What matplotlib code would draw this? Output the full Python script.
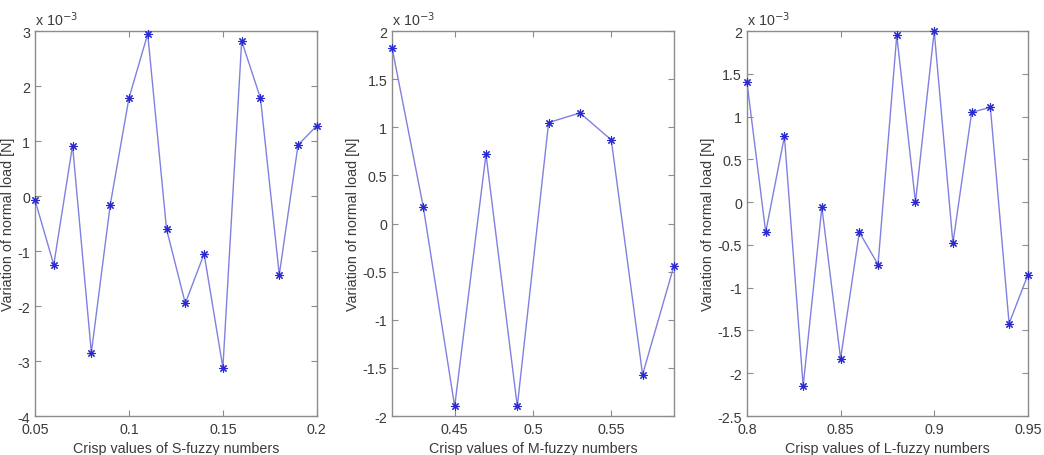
import matplotlib
matplotlib.use("Agg")
import matplotlib.pyplot as plt
from matplotlib.ticker import FuncFormatter

plt.rcParams['font.family'] = ['Liberation Sans', 'DejaVu Sans']
plt.rcParams['axes.unicode_minus'] = False

# ── data (load variation in units of 1e-3 N) ────────────
S_X = [0.05, 0.06, 0.07, 0.08, 0.09, 0.10, 0.11, 0.12,
       0.13, 0.14, 0.15, 0.16, 0.17, 0.18, 0.19, 0.20]
S_Y = [-0.07, -1.25, 0.92, -2.85, -0.17, 1.78, 2.95, -0.60,
       -1.95, -1.05, -3.12, 2.82, 1.78, -1.43, 0.93, 1.28]

M_X = [0.41, 0.43, 0.45, 0.47, 0.49, 0.51, 0.53, 0.55, 0.57, 0.59]
M_Y = [1.83, 0.17, -1.90, 0.72, -1.90, 1.05, 1.15, 0.87, -1.57, -0.44]

L_X = [0.80, 0.81, 0.82, 0.83, 0.84, 0.85, 0.86, 0.87,
       0.88, 0.89, 0.90, 0.91, 0.92, 0.93, 0.94, 0.95]
L_Y = [1.40, -0.35, 0.77, -2.15, -0.06, -1.83, -0.35, -0.73,
       1.95, 0.00, 2.00, -0.48, 1.05, 1.11, -1.42, -0.85]

S_XTICKS = [0.05, 0.1, 0.15, 0.2]
M_XTICKS = [0.45, 0.5, 0.55]
L_XTICKS = [0.8, 0.85, 0.9, 0.95]
S_YTICKS = [-4, -3, -2, -1, 0, 1, 2, 3]
M_YTICKS = [-2, -1.5, -1, -0.5, 0, 0.5, 1, 1.5, 2]
L_YTICKS = [-2.5, -2, -1.5, -1, -0.5, 0, 0.5, 1, 1.5, 2]

XLABELS = ['Crisp values of S-fuzzy numbers',
           'Crisp values of M-fuzzy numbers',
           'Crisp values of L-fuzzy numbers']
YLABEL = 'Variation of normal load [N]'

LINE_C = '#8080e0'
MARK_C = '#2a2ad0'
AX_C = '#8c8c8c'
TXT_C = '#3a3a3a'

fig = plt.figure(figsize=(10.44, 4.56), dpi=100)
fig.patch.set_facecolor('white')

panels = [
    ([0.0335, 0.0855, 0.270, 0.844], S_X, S_Y, S_XTICKS, S_YTICKS, (0.05, 0.2), (-4, 3)),
    ([0.3755, 0.0855, 0.270, 0.844], M_X, M_Y, M_XTICKS, M_YTICKS, (0.41, 0.59), (-2, 2)),
    ([0.7155, 0.0855, 0.269, 0.844], L_X, L_Y, L_XTICKS, L_YTICKS, (0.8, 0.95), (-2.5, 2)),
]

fmt = FuncFormatter(lambda v, p: '%g' % v)

for (rect, xs, ys, xt, yt, xl, yl), xlab in zip(panels, XLABELS):
    ax = fig.add_axes(rect)
    ax.plot(xs, ys, color=LINE_C, lw=1.0, marker=(8, 2, 0), ms=6,
            mec=MARK_C, mew=0.8, zorder=3, clip_on=False)
    ax.set_xlim(*xl); ax.set_ylim(*yl)
    ax.set_xticks(xt); ax.set_yticks(yt)
    ax.xaxis.set_major_formatter(fmt); ax.yaxis.set_major_formatter(fmt)
    ax.tick_params(direction='in', top=True, right=True, length=4,
                   width=0.8, color=AX_C, labelcolor=TXT_C, labelsize=10.3)
    ax.tick_params(axis='x', pad=4)
    for sp in ax.spines.values():
        sp.set_color(AX_C); sp.set_linewidth(1.0)
    ax.set_xlabel(xlab, fontsize=10.3, color=TXT_C, labelpad=4)
    ax.set_ylabel(YLABEL, fontsize=10.3, color=TXT_C, labelpad=2)
    ax.text(0.0, 1.008, r'x 10$^{-3}$', transform=ax.transAxes,
            ha='left', va='bottom', fontsize=10.3, color=TXT_C)

fig.savefig('out.png', dpi=100, facecolor='white')
